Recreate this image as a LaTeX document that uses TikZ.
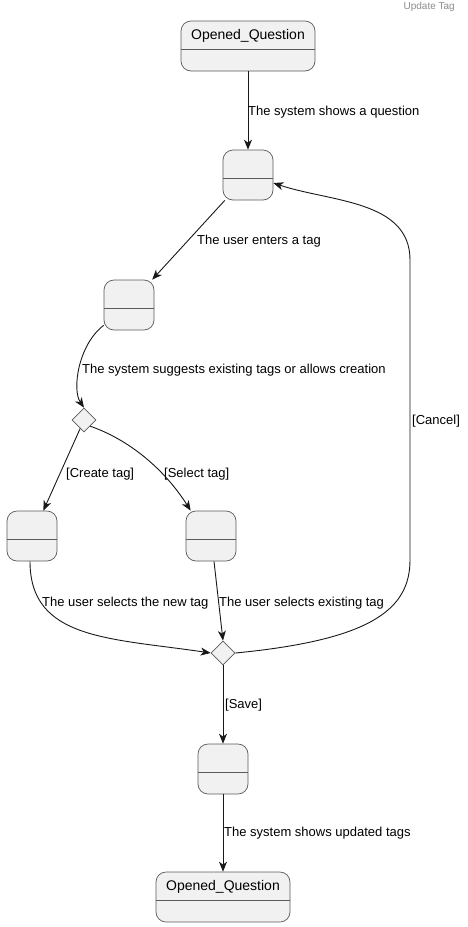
\documentclass[tikz,border=0pt]{standalone}
\usepackage{fontspec}
\setmainfont{Liberation Sans}
\usetikzlibrary{arrows.meta}
\usetikzlibrary{shapes.geometric}

\definecolor{statefill}{HTML}{F1F1F1}
\definecolor{stateline}{HTML}{5A5A5A}
\definecolor{edgeline}{HTML}{181818}

\tikzset{
  statebox/.style={draw=stateline, line width=0.7pt, fill=statefill, rounded corners=10pt,
    minimum width=50pt, minimum height=50pt, inner sep=0pt,
    path picture={\draw[stateline, line width=0.7pt]
      ([yshift=-3.5pt]path picture bounding box.west) -- ([yshift=-3.5pt]path picture bounding box.east);}},
  widebox/.style={statebox, minimum width=134pt},
  statename/.style={font=\fontsize{14}{16}\selectfont, yshift=10pt, inner sep=0pt},
  choice/.style={diamond, draw=stateline, line width=0.7pt, fill=statefill, minimum size=24pt, inner sep=0pt},
  trans/.style={draw=edgeline, line width=0.9pt, -{Stealth[length=10pt,width=8pt,inset=3pt]}},
  translabel/.style={font=\fontsize{13}{15}\selectfont, anchor=west, inner sep=0pt},
}

\begin{document}
\begin{tikzpicture}[x=1pt,y=-1pt]
  \useasboundingbox (0,0) rectangle (467,927);

  \node[anchor=north east, inner sep=0pt, text=black!45, font=\fontsize{10}{12}\selectfont] (title) at (455,2) {Update Tag};

  % states
  \node[widebox, label={[statename]center:Opened\_Question}] (oqtop) at (248,46) {};
  \node[statebox] (s1) at (248,175) {};
  \node[statebox] (s2) at (129,305) {};
  \node[choice] (d1) at (84,420) {};
  \node[statebox] (s3) at (32,536) {};
  \node[statebox] (s4) at (211,536) {};
  \node[choice] (d2) at (223,653) {};
  \node[statebox] (s5) at (223,769) {};
  \node[widebox, label={[statename]center:Opened\_Question}] (oqbot) at (223,897) {};

  % transitions
  \draw[trans] (oqtop) -- (s1);
  \draw[trans] (s1) -- (s2);
  \draw[trans] ([yshift=5pt]s2.south west) .. controls (78,345) and (72,390) .. (d1.north);
  \draw[trans] (d1) -- (s3);
  \draw[trans] (d1.south east) .. controls (130,440) and (165,470) .. ([xshift=5pt]s4.north west);
  \draw[trans] ([xshift=-2pt]s3.south) .. controls (30,640) and (110,638) .. (d2.west);
  \draw[trans] ([xshift=3pt]s4.south) -- (d2.north);
  \draw[trans] (d2.east) .. controls (370,640) and (410,610) .. (410,560) -- (410,260)
    .. controls (410,200) and (330,202) .. ([yshift=-8pt]s1.east);
  \draw[trans] (d2) -- (s5);
  \draw[trans] (s5) -- (oqbot);

  % labels
  \node[translabel] (l1) at (248,112) {The system shows a question};
  \node[translabel] (l2) at (197,241) {The user enters a tag};
  \node[translabel] (l3) at (82,370) {The system suggests existing tags or allows creation};
  \node[translabel] (l4) at (66,474) {[Create tag]};
  \node[translabel] (l5) at (164,474) {[Select tag]};
  \node[translabel] (l6) at (42,603) {The user selects the new tag};
  \node[translabel] (l7) at (219,603) {The user selects existing tag};
  \node[translabel] (l8) at (412,421) {[Cancel]};
  \node[translabel] (l9) at (225,705) {[Save]};
  \node[translabel] (l10) at (224,833) {The system shows updated tags};
\end{tikzpicture}
\end{document}
